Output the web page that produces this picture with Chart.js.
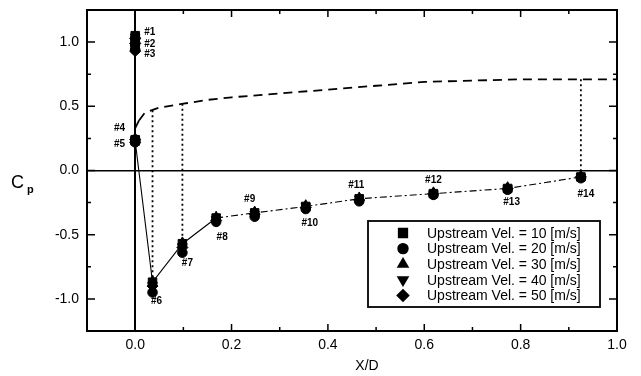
<!DOCTYPE html>
<html><head><meta charset="utf-8">
<script src="https://cdn.jsdelivr.net/npm/chart.js@4/dist/chart.umd.min.js"></script>
<style>html,body{margin:0;padding:0;background:#fff;}canvas{display:block}</style>
</head><body>
<canvas id="c" width="641" height="376"></canvas>
<script>
// ---- data ----
const tapLabels = ['#1','#2','#3','#4','#5','#6','#7','#8','#9','#10','#11','#12','#13','#14'];
const tapX  = [0, 0, 0, 0, 0, 0.036, 0.098, 0.168, 0.248, 0.354, 0.465, 0.619, 0.773, 0.925];
const cp10  = [1.05, 1.00, 0.96, 0.24, 0.23, -0.87, -0.57, -0.37, -0.33, -0.28, -0.22, -0.18, -0.14, -0.05];
const cp20  = [1.03, 0.99, 0.94, 0.24, 0.22, -0.95, -0.64, -0.40, -0.36, -0.30, -0.24, -0.19, -0.15, -0.06];
const cp30  = [1.05, 1.01, 0.96, 0.25, 0.23, -0.86, -0.56, -0.36, -0.32, -0.27, -0.21, -0.17, -0.13, -0.04];
const cp40  = [1.04, 1.00, 0.95, 0.24, 0.23, -0.89, -0.59, -0.38, -0.34, -0.28, -0.22, -0.18, -0.14, -0.05];
const cp50  = [1.03, 0.99, 0.93, 0.24, 0.22, -0.90, -0.60, -0.39, -0.34, -0.29, -0.23, -0.18, -0.14, -0.05];
const seriesNames = ['Upstream Vel. = 10 [m/s]','Upstream Vel. = 20 [m/s]','Upstream Vel. = 30 [m/s]','Upstream Vel. = 40 [m/s]','Upstream Vel. = 50 [m/s]'];
// connecting line through taps #5..#14
const lineCp = [0.23, -0.87, -0.57, -0.37, -0.33, -0.28, -0.22, -0.18, -0.14, -0.05];
// dashed body-profile curve
const profileX  = [0, 0.008, 0.02, 0.05, 0.10, 0.15, 0.20, 0.30, 0.40, 0.50, 0.60, 0.70, 0.80, 0.90, 1.00];
const profileCp = [0.33, 0.39, 0.45, 0.49, 0.52, 0.55, 0.57, 0.60, 0.63, 0.66, 0.69, 0.70, 0.71, 0.71, 0.71];
// dotted drop lines
const dropX      = [0.036, 0.098, 0.925];
const dropTop    = [0.47, 0.52, 0.71];
const dropBottom = [-0.86, -0.56, -0.03];
// tick labels
const xTicks = [0, 0.2, 0.4, 0.6, 0.8, 1.0];
const yTicks = [-1.0, -0.5, 0, 0.5, 1.0];

// ---- styles ----
const FONT = '"Liberation Sans", Arial, sans-serif';
const markerStyles = [
  {pointStyle:'rect', radius:6, rotation:0},
  {pointStyle:'circle', radius:4.8, rotation:0},
  {pointStyle:'triangle', radius:5.5, rotation:0},
  {pointStyle:'triangle', radius:5.5, rotation:180},
  {pointStyle:'rectRot', radius:5.5, rotation:0}
];
// label offsets relative to the 10 m/s marker: [dx, dy, align]
const labelOffsets = [[9,-3,'left'],[9,2,'left'],[9,7,'left'],[-10,-11,'right'],[-10,3,'right'],
  [4,19,'center'],[5,19.5,'center'],[6,19,'center'],[-5,-13.5,'center'],[4,17,'center'],
  [-3,-13,'center'],[0,-13,'center'],[4,14,'center'],[5,17,'center']];

const allCp = [cp10, cp20, cp30, cp40, cp50];
const pts = (xs, ys) => xs.map((v,i)=>({x:v, y:ys[i]}));

const datasets = [];
datasets.push({label:'line', data: pts(tapX.slice(4), lineCp), showLine:true, borderColor:'#000', borderWidth:1.1,
  pointRadius:0, fill:false,
  segment:{borderDash: c => c.p0DataIndex >= 3 ? [7,3,2,3] : undefined}});
datasets.push({label:'profile', data: pts(profileX, profileCp), showLine:true, borderColor:'#000', borderWidth:1.8,
  pointRadius:0, fill:false,
  segment:{borderDash: c => c.p0DataIndex >= 1 ? [9,6] : undefined}});
dropX.forEach((dx,i)=>{
  datasets.push({label:'drop'+i, data:[{x:dx,y:dropTop[i]},{x:dx,y:dropBottom[i]}], showLine:true,
    borderColor:'#000', borderWidth:1.8, borderDash:[2,3], pointRadius:0, fill:false});
});
allCp.forEach((cp,k)=>{
  const m = markerStyles[k];
  datasets.push({label:seriesNames[k], data: pts(tapX, cp), showLine:false,
    pointStyle:m.pointStyle, pointRadius:m.radius, pointRotation:m.rotation,
    backgroundColor:'#000', borderColor:'#000', borderWidth:1, pointHoverRadius:m.radius});
});

function drawMarker(ctx, m, x, y){
  Chart.helpers.drawPoint(ctx, {pointStyle:m.pointStyle, rotation:m.rotation, radius:m.radius, borderWidth:1}, x, y);
  ctx.fill();
}

const decor = {
  id:'decor',
  afterDraw(chart){
    const {ctx, chartArea:a, scales:{x, y}} = chart;
    ctx.save();
    ctx.strokeStyle = '#000'; ctx.fillStyle = '#000';
    // inward ticks
    ctx.lineWidth = 1.5;
    ctx.beginPath();
    for (let k = 0; k < 10; k++) {
      const px = x.getPixelForValue(k/10);
      const len = (k % 2 === 0) ? 7 : 4;
      ctx.moveTo(px, a.bottom); ctx.lineTo(px, a.bottom - len);
      ctx.moveTo(px, a.top); ctx.lineTo(px, a.top + len);
    }
    for (let k = -4; k <= 4; k++) {
      const py = y.getPixelForValue(k/4);
      const len = (k % 2 === 0) ? 8 : 4;
      ctx.moveTo(a.left, py); ctx.lineTo(a.left + len, py);
      ctx.moveTo(a.right, py); ctx.lineTo(a.right - len, py);
    }
    ctx.stroke();
    // frame
    ctx.lineWidth = 2;
    ctx.strokeRect(a.left, a.top, a.width, a.height);
    // axis titles
    ctx.font = '18px ' + FONT; ctx.textAlign = 'left'; ctx.textBaseline = 'alphabetic';
    ctx.fillText('C', 11, 188);
    ctx.font = 'bold 11px ' + FONT;
    ctx.fillText('p', 27, 193);
    ctx.font = '14px ' + FONT; ctx.textAlign = 'center'; ctx.textBaseline = 'middle';
    ctx.fillText('X/D', (a.left + a.right)/2 + 15, 366);
    // tap labels
    ctx.font = 'bold 10px ' + FONT; ctx.textBaseline = 'middle';
    tapLabels.forEach((t,i)=>{
      const o = labelOffsets[i];
      ctx.textAlign = o[2];
      ctx.fillText(t, x.getPixelForValue(tapX[i]) + o[0], y.getPixelForValue(cp10[i]) + o[1]);
    });
    // legend
    const bx = 368, by = 221, bw = 232, bh = 86;
    ctx.fillStyle = '#fff'; ctx.fillRect(bx, by, bw, bh);
    ctx.lineWidth = 1.8; ctx.strokeRect(bx, by, bw, bh);
    ctx.fillStyle = '#000';
    ctx.font = '14px ' + FONT; ctx.textAlign = 'left'; ctx.textBaseline = 'middle';
    seriesNames.forEach((n,k)=>{
      const ry = by + 12 + k*15.6;
      drawMarker(ctx, markerStyles[k], bx + 35, ry);
      ctx.fillText(n, bx + 59, ry + 1);
    });
    ctx.restore();
  }
};

new Chart(document.getElementById('c'), {
  type:'scatter',
  data:{datasets},
  options:{
    responsive:false, animation:false, devicePixelRatio:1,
    layout:{padding:{left:0, top:10, right:24, bottom:0}},
    plugins:{legend:{display:false}, tooltip:{enabled:false}},
    scales:{
      x:{type:'linear', min:-0.1, max:1.0,
        afterBuildTicks: s => { s.ticks = xTicks.map(v=>({value:v})); },
        afterFit: s => { s.height = 45; s.paddingLeft = 0; s.paddingRight = 0; },
        border:{display:false},
        grid:{drawTicks:false, lineWidth:2, color: c => (c.tick && Math.abs(c.tick.value) < 1e-9) ? '#000' : 'rgba(0,0,0,0)'},
        ticks:{padding:6, color:'#000', font:{size:14, family:FONT}, maxRotation:0,
          callback: v => Number(v).toFixed(1)}},
      y:{type:'linear', min:-1.25, max:1.25,
        afterBuildTicks: s => { s.ticks = yTicks.map(v=>({value:v})); },
        afterFit: s => { s.width = 87; s.paddingTop = 0; s.paddingBottom = 0; },
        border:{display:false},
        grid:{drawTicks:false, lineWidth:1.6, color: c => (c.tick && Math.abs(c.tick.value) < 1e-9) ? '#000' : 'rgba(0,0,0,0)'},
        ticks:{padding:8, color:'#000', font:{size:14, family:FONT},
          callback: v => Number(v).toFixed(1)}}
    }
  },
  plugins:[decor]
});
</script>
</body></html>
